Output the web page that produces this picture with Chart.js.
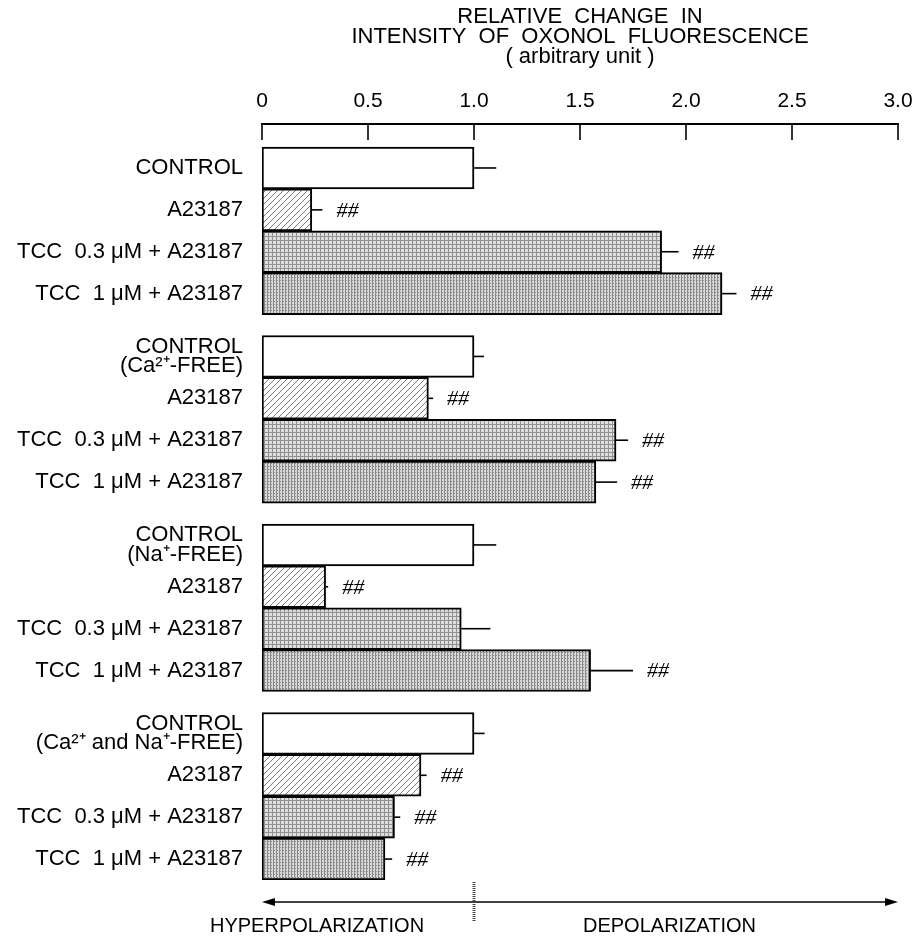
<!DOCTYPE html>
<html lang="en">
<head>
    <meta charset="UTF-8">
    <title>Oxonol Fluorescence</title>
    <style>
        * { padding: 0; margin: 0; }
        body { background: #fff; }
        .wrap { width: 917px; height: 937px; position: relative; }
    </style>
</head>
<body>
    <div class="wrap"><canvas id="chart"></canvas></div>

    <script src="https://cdn.jsdelivr.net/npm/chart.js"></script>
    <script>
        // label of each bar (multi-line labels as arrays)
        const barLabels = [
            ['CONTROL'], ['A23187'], ['TCC  0.3 μM + A23187'], ['TCC  1 μM + A23187'],
            ['CONTROL', '(Ca²⁺-FREE)'], ['A23187'], ['TCC  0.3 μM + A23187'], ['TCC  1 μM + A23187'],
            ['CONTROL', '(Na⁺-FREE)'], ['A23187'], ['TCC  0.3 μM + A23187'], ['TCC  1 μM + A23187'],
            ['CONTROL', '(Ca²⁺ and Na⁺-FREE)'], ['A23187'], ['TCC  0.3 μM + A23187'], ['TCC  1 μM + A23187']
        ];
        // bar kind: 0 = control (white), 1 = A23187 (hatched), 2 = TCC 0.3, 3 = TCC 1
        const barKinds = [0, 1, 2, 3, 0, 1, 2, 3, 0, 1, 2, 3, 0, 1, 2, 3];
        const meanValues = [1.0, 0.235, 1.885, 2.17, 1.0, 0.785, 1.67, 1.575, 1.0, 0.30, 0.94, 1.55, 1.0, 0.75, 0.625, 0.58];
        const errorValues = [0.105, 0.05, 0.08, 0.068, 0.047, 0.022, 0.057, 0.10, 0.105, 0.012, 0.137, 0.20, 0.05, 0.027, 0.027, 0.034];
        const significant = [false, true, true, true, false, true, true, true, false, true, false, true, false, true, true, true];
        const xTicks = [0, 0.5, 1.0, 1.5, 2.0, 2.5, 3.0];
        const titleLines = ['RELATIVE  CHANGE  IN', 'INTENSITY  OF  OXONOL  FLUORESCENCE', '( arbitrary unit )'];

        // bar slots: 4 bars per group, half a slot between groups
        const barPositions = barKinds.map((k, i) => Math.floor(i / 4) * 4.5 + (i % 4));

        // fill patterns
        function makePattern(size, draw) {
            const c = document.createElement('canvas');
            c.width = size; c.height = size;
            const g = c.getContext('2d');
            draw(g, size);
            return g.createPattern(c, 'repeat');
        }
        const ctx = document.getElementById('chart').getContext('2d');
        const hatch = makePattern(6, (g, s) => {
            g.fillStyle = '#fff'; g.fillRect(0, 0, s, s);
            g.strokeStyle = '#444'; g.lineWidth = 0.7;
            g.beginPath();
            g.moveTo(0, s); g.lineTo(s, 0);
            g.moveTo(-1, 1); g.lineTo(1, -1);
            g.moveTo(s - 1, s + 1); g.lineTo(s + 1, s - 1);
            g.stroke();
        });
        const plaid = makePattern(4, (g, s) => {
            g.fillStyle = '#dedede'; g.fillRect(0, 0, s, s);
            g.fillStyle = '#929292';
            g.fillRect(0, 0, 1, s);
            g.fillRect(0, 0, s, 1);
        });
        const dots = makePattern(3, (g, s) => {
            g.fillStyle = '#d8d8d8'; g.fillRect(0, 0, s, s);
            g.fillStyle = '#8a8a8a';
            g.fillRect(0, 0, 1, s);
            g.fillRect(1, 1, 1, 1);
        });
        const kindFill = ['#ffffff', hatch, plaid, dots];

        const fontFamily = '"Liberation Sans", Arial, sans-serif';

        // error bars and ## marks
        const errorBars = {
            id: 'errorBars',
            afterDatasetsDraw(chart) {
                const c = chart.ctx;
                const xs = chart.scales.x;
                const meta = chart.getDatasetMeta(0);
                c.save();
                c.strokeStyle = '#000';
                c.lineWidth = 1.6;
                c.fillStyle = '#000';
                c.font = 'italic 22px "Liberation Serif", serif';
                c.textBaseline = 'middle';
                meta.data.forEach((bar, i) => {
                    const xEnd = xs.getPixelForValue(meanValues[i] + errorValues[i]);
                    c.beginPath();
                    c.moveTo(bar.x, bar.y);
                    c.lineTo(xEnd, bar.y);
                    c.stroke();
                    if (significant[i]) c.fillText('##', xEnd + 14, bar.y + 1);
                });
                c.restore();
            }
        };

        // top axis tick marks (pointing down) and bottom polarization arrow
        const axisExtras = {
            id: 'axisExtras',
            afterDraw(chart) {
                const c = chart.ctx;
                const xs = chart.scales.x;
                const area = chart.chartArea;
                c.save();
                c.strokeStyle = '#000';
                c.lineWidth = 1.6;
                xs.ticks.forEach((t, i) => {
                    const px = Math.round(xs.getPixelForTick(i));
                    c.beginPath();
                    c.moveTo(px, area.top);
                    c.lineTo(px, area.top + 16);
                    c.stroke();
                });

                const y0 = area.bottom + 22;
                const xl = xs.getPixelForValue(0);
                const xr = xs.getPixelForValue(3);
                const x1 = xs.getPixelForValue(1);
                c.beginPath();
                c.moveTo(xl + 4, y0);
                c.lineTo(xr - 4, y0);
                c.stroke();
                c.fillStyle = '#000';
                c.beginPath();
                c.moveTo(xl, y0); c.lineTo(xl + 13, y0 - 4); c.lineTo(xl + 13, y0 + 4); c.closePath();
                c.fill();
                c.beginPath();
                c.moveTo(xr, y0); c.lineTo(xr - 13, y0 - 4); c.lineTo(xr - 13, y0 + 4); c.closePath();
                c.fill();

                c.strokeStyle = '#444';
                c.lineWidth = 3;
                c.setLineDash([1, 1]);
                c.beginPath();
                c.moveTo(x1, area.bottom + 2);
                c.lineTo(x1, area.bottom + 42);
                c.stroke();
                c.setLineDash([]);

                c.font = '20px ' + fontFamily;
                c.textBaseline = 'middle';
                c.textAlign = 'left';
                c.fillText('HYPERPOLARIZATION', xl - 52, y0 + 24);
                c.fillText('DEPOLARIZATION', x1 + 109, y0 + 24);
                c.restore();
            }
        };

        new Chart(ctx, {
            type: 'bar',
            data: {
                datasets: [{
                    data: barPositions.map((p, i) => ({ x: meanValues[i], y: p })),
                    backgroundColor: barKinds.map(k => kindFill[k]),
                    borderColor: '#000',
                    borderWidth: 2,
                    borderSkipped: false,
                    barPercentage: 1,
                    categoryPercentage: 1
                }]
            },
            options: {
                indexAxis: 'y',
                responsive: true,
                maintainAspectRatio: false,
                animation: false,
                layout: { padding: { top: 0, right: 19, bottom: 57, left: 0 } },
                plugins: {
                    legend: { display: false },
                    tooltip: { enabled: false }
                },
                scales: {
                    x: {
                        type: 'linear',
                        position: 'top',
                        min: 0,
                        max: 3,
                        afterBuildTicks: s => { s.ticks = xTicks.map(v => ({ value: v })); },
                        ticks: {
                            color: '#000',
                            font: { family: fontFamily, size: 21 },
                            padding: 10,
                            autoSkip: false,
                            maxRotation: 0,
                            callback: v => (v === 0 ? '0' : v.toFixed(1))
                        },
                        grid: { display: false, drawTicks: false },
                        border: { display: true, color: '#000', width: 2 },
                        title: {
                            display: true,
                            text: titleLines,
                            color: '#000',
                            font: { family: fontFamily, size: 22, lineHeight: 0.9 },
                            padding: { top: 7, bottom: 0 }
                        },
                        afterFit: s => {
                            s.height = 124;
                            s.paddingLeft = 0;
                            s.paddingRight = 0;
                        }
                    },
                    y: {
                        type: 'linear',
                        reverse: true,
                        offset: false,
                        min: -1.05,
                        max: 17,
                        afterBuildTicks: s => { s.ticks = barPositions.map(v => ({ value: v })); },
                        ticks: {
                            color: '#000',
                            font: { family: fontFamily, size: 22, lineHeight: 0.88 },
                            padding: 19,
                            autoSkip: false,
                            callback: v => barLabels[barPositions.indexOf(v)]
                        },
                        grid: { display: false, drawTicks: false },
                        border: { display: false },
                        afterFit: s => { s.width = 262; }
                    }
                }
            },
            plugins: [errorBars, axisExtras]
        });
    </script>
</body>
</html>
